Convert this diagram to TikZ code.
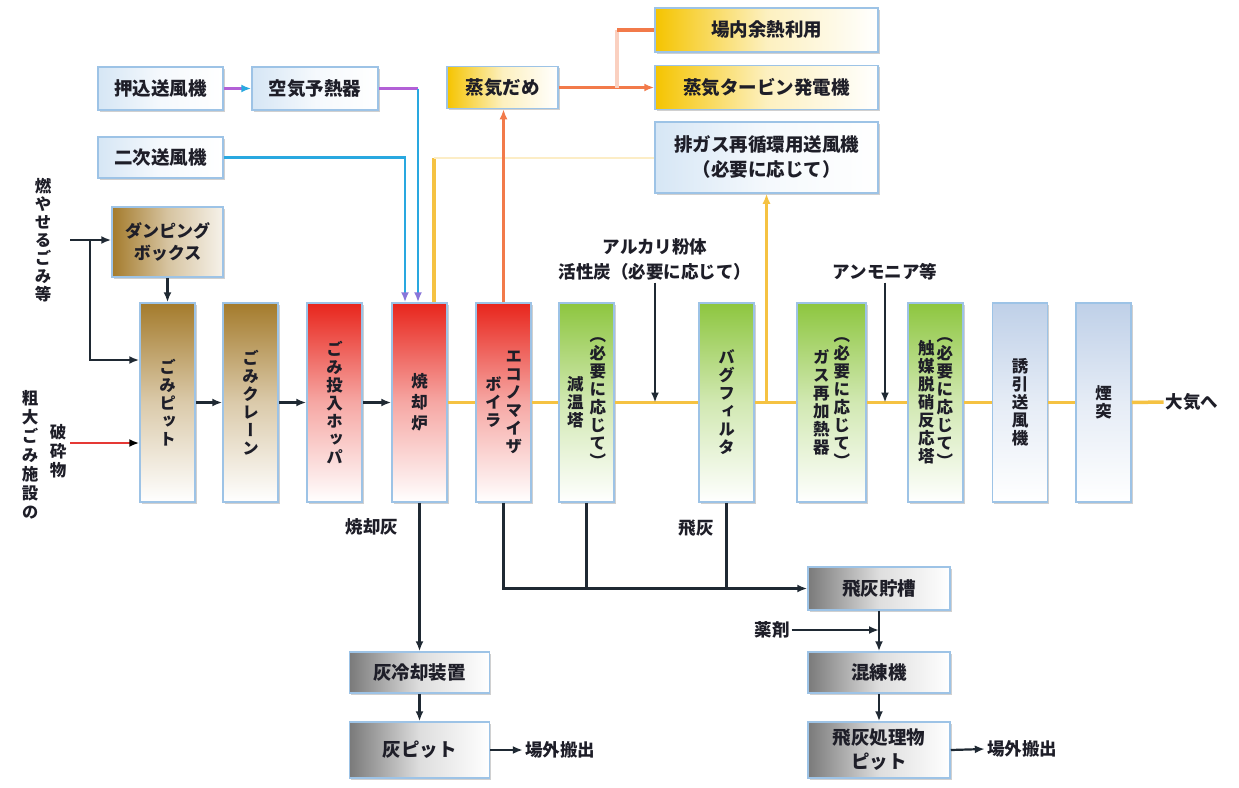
\documentclass[tikz,border=0pt]{standalone}
\usepackage{fontspec}
\setmainfont{Noto Sans CJK JP}
\newfontfamily\jpv{Noto Sans CJK JP}[RawFeature=+vert]
\usetikzlibrary{arrows.meta,shadows,calc}
\definecolor{bord}{HTML}{9DC3E6}
\definecolor{gbrown}{HTML}{A47B2C}
\definecolor{gred}{HTML}{E8251C}
\definecolor{ggreen}{HTML}{8DC63F}
\definecolor{gsteel}{HTML}{BFD0E8}
\definecolor{gyel}{HTML}{F5C400}
\definecolor{ggray}{HTML}{7A7A7A}
\definecolor{gsky}{HTML}{D6E6F5}
\definecolor{ln}{HTML}{1F2933}
\definecolor{yfl}{HTML}{F5C242}
\definecolor{orn}{HTML}{F27A4A}
\definecolor{vio}{HTML}{B260D6}
\definecolor{blu}{HTML}{29A8E0}
\definecolor{rdl}{HTML}{E53935}
\definecolor{tx}{HTML}{1E1E28}
\newlength\vtskip
\setlength\vtskip{18pt}
\def\vtloop#1{\ifx\relax#1\else\hbox to 1em{\hss#1\hss}\expandafter\vtloop\fi}
\newcommand\vtc[1]{\ensuremath{\vcenter{\baselineskip=\vtskip\lineskip=0pt\lineskiplimit=-50pt\vtloop#1\relax}}}
\tikzset{
  bx/.style={draw=bord, line width=1.5pt, inner sep=0pt, text=tx, align=center,
    drop shadow={shadow xshift=1.5pt, shadow yshift=-1.5pt, opacity=0.3, fill=black!60},
    font=\bfseries\fontsize{18.5}{21}\selectfont},
  vbx/.style={bx, minimum width=55pt, minimum height=199pt,
    font=\jpv\bfseries\fontsize{16.5}{18}\selectfont},
  gv/.style={top color=#1, bottom color=white, middle color=#1!40!white},
  gh/.style={left color=#1, right color=white, middle color=#1!25!white},
  vtxt/.style={text=tx, inner sep=1pt, font=\jpv\bfseries\fontsize{16.5}{18}\selectfont},
  htxt/.style={text=tx, inner sep=2pt, align=center, font=\bfseries\fontsize{17.5}{21}\selectfont},
  arr/.style={-{Latex[length=10pt,width=8pt]}},
  blk/.style={draw=ln, line width=2.2pt},
  yflow/.style={draw=yfl, line width=3.5pt},
  oline/.style={draw=orn, line width=3.5pt},
  vline/.style={draw=vio, line width=2.4pt},
  bline/.style={draw=blu, line width=2.2pt},
  rline/.style={draw=rdl, line width=2.4pt},
}
\begin{document}
\begin{tikzpicture}[x=1pt,y=-1pt]
\fill[white] (0,0) rectangle (1239,787);
\useasboundingbox (0,0) rectangle (1239,787);

% top-left air boxes
\node[bx, gh=gsky, minimum width=125pt, minimum height=43pt] (oshikomi) at (160.5,88.5) {押込送風機};
\node[bx, gh=gsky, minimum width=126pt, minimum height=43pt] (kuuki) at (315,88.5) {空気予熱器};
\node[bx, gh=gsky, minimum width=125pt, minimum height=41pt] (niji) at (160.5,157.5) {二次送風機};
\node[bx, left color=gbrown, right color=gbrown!10!white, middle color=gbrown!45!white, minimum width=111pt, minimum height=70pt, font=\bfseries\fontsize{17}{22}\selectfont] (damping) at (167.5,242) {ダンピング\\ボックス};

% steam / recirculation
\node[bx, gh=gyel, minimum width=111pt, minimum height=42pt] (jouki) at (502.5,87.5) {蒸気だめ};
\node[bx, gh=gyel, minimum width=223pt, minimum height=44pt] (yonetsu) at (766.5,30) {場内余熱利用};
\node[bx, gh=gyel, minimum width=223pt, minimum height=44pt] (turbine) at (766.5,87.5) {蒸気タービン発電機};
\node[bx, gh=gsky, minimum width=223pt, minimum height=71pt, font=\bfseries\fontsize{18.5}{25}\selectfont] (recirc) at (766.5,157.5) {排ガス再循環用送風機\\（必要に応じて）};

% main row
\node[vbx, gv=gbrown] (pit) at (167.5,402.5) {\vtc{ごみピット}};
\node[vbx, gv=gbrown] (crane) at (250.5,402.5) {\vtc{ごみクレーン}};
\node[vbx, gv=gred] (hopper) at (334.5,402.5) {\vtc{ごみ投入ホッパ}};
\node[vbx, gv=gred] (furnace) at (419.5,402.5) {\setlength\vtskip{21pt}\vtc{焼却炉}};
\node[vbx, gv=gred] (boiler) at (503.5,402.5) {\vtc{ボイラ}\hspace{4pt}\vtc{エコノマイザ}};
\node[vbx, gv=ggreen] (gentou) at (586.5,402.5) {\vtc{減温塔}\hspace{6pt}\vtc{（必要に応じて）}};
\node[vbx, gv=ggreen] (bag) at (726.5,402.5) {\vtc{バグフィルタ}};
\node[vbx, gv=ggreen, minimum width=69pt] (reheat) at (831.5,402.5) {\vtc{ガス再加熱器}\hspace{4pt}\vtc{（必要に応じて）}};
\node[vbx, gv=ggreen] (catalyst) at (935.5,402.5) {\vtc{触媒脱硝反応塔}\hspace{2pt}\vtc{（必要に応じて）}};
\node[vbx, gv=gsteel] (fan) at (1020,402.5) {\vtc{誘引送風機}};
\node[vbx, gv=gsteel] (stack) at (1103.5,402.5) {\vtc{煙突}};
\node[htxt] (taiki) at (1192,402) {大気へ};

% left texts
\node[vtxt] (moy) at (43,240) {\vtc{燃やせるごみ等}};
\node[vtxt] (sodai) at (30,455) {\setlength\vtskip{19pt}\vtc{粗大ごみ施設の}};
\node[vtxt] (hasai) at (58,451) {\setlength\vtskip{19pt}\vtc{破砕物}};

% chemical texts
\node[htxt] (alk1) at (655,247) {アルカリ粉体};
\node[htxt] (alk2) at (655,272) {活性炭（必要に応じて）};
\node[htxt] (amm) at (885,272) {アンモニア等};

% bottom boxes
\node[bx, gh=ggray, minimum width=140pt, minimum height=41pt] (haireikyaku) at (419.5,672.5) {灰冷却装置};
\node[bx, gh=ggray, minimum width=140pt, minimum height=56pt] (haipit) at (419.5,750) {灰ピット};
\node[bx, gh=ggray, minimum width=142pt, minimum height=43pt] (hichozou) at (879,588.5) {飛灰貯槽};
\node[bx, gh=ggray, minimum width=142pt, minimum height=41pt] (konren) at (879,672.5) {混練機};
\node[bx, gh=ggray, minimum width=142pt, minimum height=56pt, font=\bfseries\fontsize{18.5}{24}\selectfont] (hishori) at (879,750) {飛灰処理物\\ピット};
\node[htxt] (shoukyakubai) at (372,527) {焼却灰};
\node[htxt] (hibai) at (696,528) {飛灰};
\node[htxt] (yakuzai) at (772,630) {薬剤};
\node[htxt] (out1) at (560,750) {場外搬出};
\node[htxt] (out2) at (1022,749) {場外搬出};

% ---- connectors ----
% fuel input
\coordinate (m1) at (70,240);
\coordinate (m2) at (90,240);
\coordinate (h1) at (70,443);
\draw[blk,arr] (m1) -- (damping.west |- m1);
\draw[blk,arr] (m2) |- ([yshift=42.5pt]pit.west);
\draw[rline,-{Latex[length=10pt,width=8pt,black]}] (h1) -- ([yshift=-40.5pt]pit.west);
\draw[blk,arr] (damping.south) -- (pit.north);
\foreach \a/\b in {pit/crane,crane/hopper,hopper/furnace}
  \draw[blk,arr] (\a.east) -- (\b.west);

% air
\coordinate (fa) at ([xshift=-1.5pt]furnace.north);
\coordinate (fb) at ([xshift=-14.5pt]furnace.north);
\draw[vline,-{Latex[length=10pt,width=8pt,blu]}] (oshikomi.east) -- (kuuki.west);
\draw[vline] (kuuki.east) -- (kuuki.east -| fa);
\draw[bline,-{Latex[length=10pt,width=8pt,vio!70!blu]}] (kuuki.east -| fa) -- (fa);
\draw[bline,-{Latex[length=10pt,width=8pt,vio!70!blu]}] (niji.east) -| (fb);

% flue gas
\foreach \a/\b in {furnace/boiler,boiler/gentou,gentou/bag,bag/reheat,reheat/catalyst,catalyst/fan,fan/stack,stack/taiki}
  \draw[yflow] (\a.east) -- (\b.west);
\draw[blk,arr] (alk2.south) -- (alk2.south |- gentou.east);
\draw[blk,arr] (amm.south) -- (amm.south |- reheat.east);

% recirculation
\coordinate (rc) at (recirc.south |- bag.east);
\coordinate (fy) at ([xshift=14.5pt]furnace.north);
\draw[yflow,-{Latex[length=10pt,width=8pt]}] (rc) -- (recirc.south);
\draw[yflow] (fy) -- (fy |- recirc.west);
\draw[draw=yfl!30, line width=2pt] (fy |- recirc.west) -- (recirc.west);

% steam
\coordinate (br) at ($(jouki.east)!0.61!(turbine.west)$);
\draw[oline,arr] (boiler.north) -- (boiler.north |- jouki.south);
\draw[oline,arr] (jouki.east) -- (turbine.west);
\draw[draw=orn!35, line width=3.5pt] (br) -- (br |- yonetsu.west);
\draw[oline] (br |- yonetsu.west) -- (yonetsu.west);

% ash
\draw[blk,arr] (furnace.south) -- (haireikyaku.north);
\draw[blk,arr] (haireikyaku.south) -- (haipit.north);
\draw[blk,arr] (haipit.east) -- (out1.west);
\draw[blk,arr] (boiler.south) |- (hichozou.west);
\draw[blk] (gentou.south) -- (gentou.south |- hichozou.west);
\draw[blk] (bag.south) -- (bag.south |- hichozou.west);
\draw[blk,arr] (hichozou.south) -- (konren.north);
\draw[blk,arr] (yakuzai.east) -- (yakuzai.east -| hichozou.south);
\draw[blk,arr] (konren.south) -- (hishori.north);
\draw[blk,arr] (hishori.east) -- (out2.west);
\end{tikzpicture}
\end{document}
